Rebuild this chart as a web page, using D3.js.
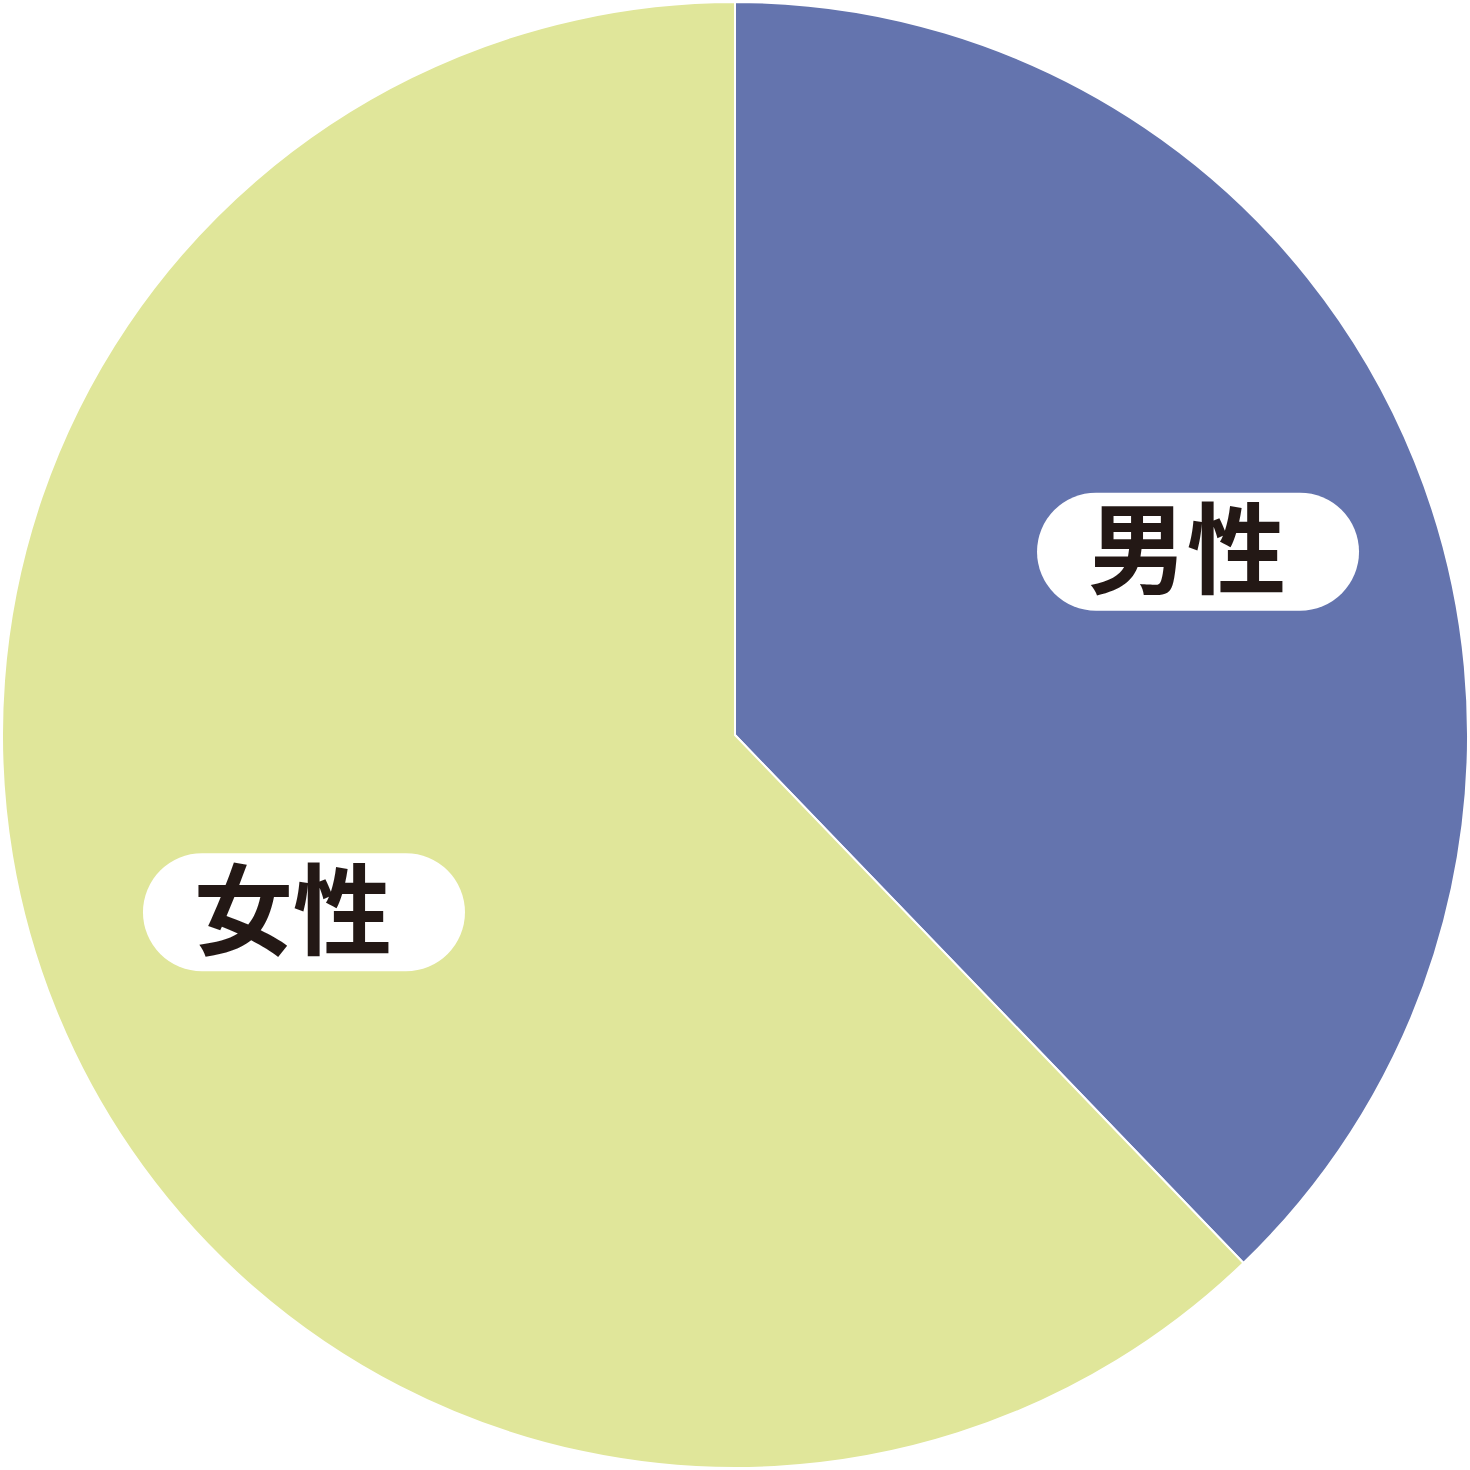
<!DOCTYPE html>
<html>
<head>
<meta charset="utf-8">
<script src="https://cdn.jsdelivr.net/npm/d3@7"></script>
<style>
  body { margin: 0; background: #fff; }
</style>
</head>
<body>
<div id="chart"></div>
<script>
var labels = ["男性", "女性"];
var values = [37.8, 62.2];
var colors = ["#6474AE", "#E0E69A"];

var width = 1470, height = 1470;
var cx = 735, cy = 735, radius = 733;

var svg = d3.select("#chart")
  .append("svg")
  .attr("width", width)
  .attr("height", height);

var g = svg.append("g")
  .attr("transform", "translate(" + cx + "," + cy + ")");

var data = labels.map(function(l, i) { return { label: l, value: values[i], color: colors[i] }; });

var pie = d3.pie()
  .sort(null)
  .value(function(d) { return d.value; });

var arc = d3.arc().innerRadius(0).outerRadius(radius);
var labelArc = d3.arc().innerRadius(482).outerRadius(482);

var slices = g.selectAll(".slice")
  .data(pie(data))
  .enter()
  .append("g")
  .attr("class", "slice");

slices.append("path")
  .attr("d", arc)
  .attr("fill", function(d) { return d.data.color; })
  .attr("stroke", "#fff")
  .attr("stroke-width", 2);

var pillW = 322, pillH = 118;

// labels sit a touch right of the arc centroid
var lab = slices.append("g")
  .attr("transform", function(d) {
    var c = labelArc.centroid(d);
    return "translate(" + (c[0] + 16) + "," + (c[1] - 3) + ")";
  });

lab.append("rect")
  .attr("x", -pillW / 2)
  .attr("y", -pillH / 2)
  .attr("width", pillW)
  .attr("height", pillH)
  .attr("rx", pillH / 2)
  .attr("fill", "#fff");

lab.append("text")
  .attr("x", -11)
  .attr("y", 0)
  .attr("dy", "0.35em")
  .attr("text-anchor", "middle")
  .style("font-family", "'Noto Sans CJK JP', sans-serif")
  .style("font-weight", "bold")
  .style("font-size", "99px")
  .style("fill", "#231815")
  .text(function(d) { return d.data.label; });
</script>
</body>
</html>
